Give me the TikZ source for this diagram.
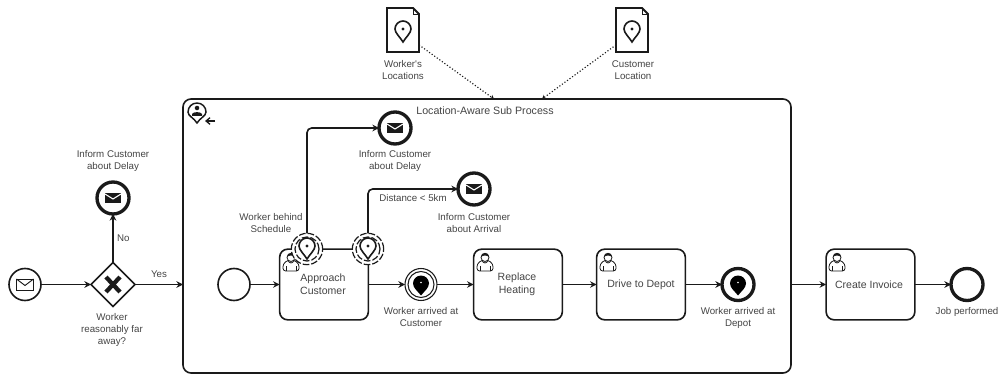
\documentclass[tikz,border=0pt]{standalone}
\usepackage{fontspec}
\setmainfont{Liberation Sans}
\newfontfamily\plainfont{Liberation Sans}
\usetikzlibrary{arrows.meta,shapes.geometric,calc}
\definecolor{ink}{HTML}{1A1A1A}
\definecolor{lab}{HTML}{444444}
\tikzset{
  x=0.75pt,y=-0.75pt,
  every node/.style={inner sep=0pt,outer sep=0pt,align=center},
  flow/.style={draw=ink,line width=1.2pt,-{Stealth[length=5pt,width=5pt]},rounded corners=3.5pt},
  assoc/.style={draw=ink,line width=0.85pt,dash pattern=on 0.85pt off 1.5pt,-{Stealth[length=3pt,width=3.5pt]}},
  lbl/.style={text=lab,font=\fontsize{7.3pt}{9pt}\selectfont},
  tasklbl/.style={text=lab,font=\fontsize{7.9pt}{9.8pt}\selectfont},
  evstart/.style={circle,draw=ink,line width=1.2pt,fill=white,minimum size=24pt},
  evend/.style={circle,draw=ink,line width=2.5pt,fill=white,minimum size=24pt},
  evdouble/.style={circle,draw=ink,line width=0.8pt,fill=white,minimum size=24pt},
  evbound/.style={circle,draw=ink,line width=0.9pt,dash pattern=on 5pt off 1.5pt,fill=white,minimum size=23.5pt},
  taskbox/.style={rectangle,draw=ink,line width=1.2pt,fill=white,rounded corners=6pt,minimum width=66.5pt,minimum height=53pt},
  gate/.style={diamond,draw=ink,line width=1.2pt,fill=white,minimum size=33pt,aspect=1},
  docbox/.style={rectangle,minimum width=24pt,minimum height=33pt},
  pics/pinline/.style={code={
    \draw[ink,line width=1.2pt,fill=white] (0,13) .. controls (-3,8) and (-8,4) .. (-8,0)
      .. controls (-8,-4.4) and (-4.4,-8) .. (0,-8)
      .. controls (4.4,-8) and (8,-4.4) .. (8,0)
      .. controls (8,4) and (3,8) .. (0,13) -- cycle;
    \fill[ink] (0,0) circle (1.3pt);}},
  pics/pinsolid/.style={code={
    \fill[black] (0,11) .. controls (-3,7) and (-8,3.5) .. (-8,-1)
      .. controls (-8,-5.4) and (-4.4,-9) .. (0,-9)
      .. controls (4.4,-9) and (8,-5.4) .. (8,-1)
      .. controls (8,3.5) and (3,7) .. (0,11) -- cycle;
    \fill[white] (0,-2) circle (0.6pt);}},
  pics/mailsolid/.style={code={
    \fill[ink] (-8,-5) rectangle (8,5);
    \draw[white,line width=0.8pt] (-8,-4) -- (0,1) -- (8,-4);}},
  pics/mailline/.style={code={
    \draw[ink,line width=0.7pt,fill=white] (-8.5,-5.5) rectangle (8.5,5.5);
    \draw[ink,line width=0.7pt] (-8.5,-5.5) -- (0,1) -- (8.5,-5.5);}},
  pics/worker/.style={code={
    \draw[ink,line width=0.6pt,fill=white,rounded corners=2pt] (-8,9) -- (-8,2) -- (-3,-2) -- (3,-2) -- (8,2) -- (8,9) -- cycle;
    \draw[ink,line width=0.6pt,fill=white] (0,-4.5) circle (3pt);
    \fill[ink] (-4,-5) .. controls (-4,-10.5) and (4,-10.5) .. (4,-5) .. controls (2,-7) and (-2,-7) .. (-4,-5) -- cycle;
    \draw[ink,line width=0.6pt] (-5,9) -- (-5,4) (5,9) -- (5,4);
    \draw[ink,line width=0.6pt] (-3,-2) .. controls (-2,2) and (2,2) .. (3,-2);}},
  pics/docsheet/.style={code={
    \draw[ink,line width=1.4pt,fill=white] (-16,-22) -- (10,-22) -- (16,-16) -- (16,22) -- (-16,22) -- cycle;
    \draw[ink,line width=0.7pt] (10,-22) -- (10,-16) -- (16,-16);}}
}
\begin{document}
\begin{tikzpicture}
\useasboundingbox (0,0) rectangle (999,374);

% sub process
\node[rectangle,draw=ink,line width=1.2pt,rounded corners=6pt,minimum width=456pt,minimum height=205.5pt] (sub) at (487,236) {};
\node[tasklbl,font=\fontsize{8pt}{9pt}\selectfont] (subl) at (485,111) {Location-Aware Sub Process};

% sub process marker
\draw[ink,line width=1.1pt] (197,123) .. controls (194,118) and (188,116) .. (188,112)
  .. controls (188,107) and (192,103) .. (197,103)
  .. controls (202,103) and (206,107) .. (206,112)
  .. controls (206,116) and (200,118) .. (197,123) -- cycle;
\fill[ink] (197,108) circle (1.7pt);
\fill[ink] (192,116) -- (192,114) .. controls (193,111.5) and (201,111.5) .. (202,114) -- (202,116) -- cycle;
\coordinate (mk1) at (215,121);
\coordinate (mk2) at (205,121);
\draw[ink,line width=1pt,-{Straight Barb[length=3pt,width=5pt]}] (mk1) -- (mk2);

% data objects
\node[docbox] (d1) at (403,30) {};
\node[docbox] (d2) at (632,30) {};
\pic at (d1) {docsheet};
\pic at (d2) {docsheet};
\pic at (403,29) {pinline};
\pic at (632,29) {pinline};
\node[lbl] (d1l) at (403,70.5) {Worker{\plainfont '}s\\Locations};
\node[lbl] (d2l) at (633,70.5) {Customer\\Location};
\coordinate (s1) at (494,99);
\coordinate (s2) at (542,99);
\draw[assoc] (d1.-43) -- (s1);
\draw[assoc] (d2.223) -- (s2);

% left part
\node[evstart] (st) at (25,284.5) {};
\pic at (st) {mailline};
\node[gate] (gw) at (113,284.5) {};
\draw[ink,line width=3.2pt] (106,277) -- (120,292) (120,277) -- (106,292);
\node[evend] (ld) at (113,198) {};
\pic at (ld) {mailsolid};
\node[lbl] (ldl) at (113,161) {Inform Customer\\about Delay};
\node[lbl] (gwl) at (112,330) {Worker\\reasonably far\\away?};
\draw[flow] (st) -- (gw);
\draw[flow] (gw) -- node[lbl,pos=0.5,right=3pt] (no) {No} (ld);
\draw[flow] (gw) -- node[lbl,pos=0.5,above=5pt] (yes) {Yes} (gw -| sub.west);

% tasks
\node[evstart] (is) at (234,284.5) {};
\node[taskbox] (t1) at (324,284.5) {};
\node[tasklbl] (t1l) at (323,284) {Approach\\Customer};
\node[taskbox] (t2) at (518,284.5) {};
\node[tasklbl] (t2l) at (517,284) {Replace\\Heating};
\node[taskbox] (t3) at (641,284.5) {};
\node[tasklbl] (t3l) at (641,285) {Drive to Depot};
\node[taskbox] (t4) at (870.5,284.5) {};
\node[tasklbl] (t4l) at (869,285) {Create Invoice};
\pic at (291,262) {worker};
\pic at (485,262) {worker};
\pic at (608,262) {worker};
\pic at (837,262) {worker};

% boundary events
\node[evbound] (b1) at (307,249) {};
\node[evbound,minimum size=18pt,fill=none] (b1i) at (307,249) {};
\pic at (307,246) {pinline};
\node[evbound] (b2) at (368,249) {};
\node[evbound,minimum size=18pt,fill=none] (b2i) at (368,249) {};
\pic at (368,246) {pinline};

% throw events
\node[evend] (m1) at (395,128) {};
\pic at (m1) {mailsolid};
\node[lbl] (m1l) at (395,161) {Inform Customer\\about Delay};
\node[evend] (m2) at (474,189) {};
\pic at (m2) {mailsolid};
\node[lbl] (m2l) at (474,223) {Inform Customer\\about Arrival};
\node[lbl] (dist) at (413,198) {Distance < 5km};
\node[lbl] (b1l) at (271,223) {Worker behind\\Schedule};

\node[evdouble] (e1) at (421,284.5) {};
\node[evdouble,minimum size=19.5pt] (e1i) at (421,284.5) {};
\pic at (421,284.5) {pinsolid};
\node[lbl] (e1l) at (421,317.5) {Worker arrived at\\Customer};
\node[evend] (e2) at (738,284.5) {};
\pic at (738,284.5) {pinsolid};
\node[lbl] (e2l) at (738,317.5) {Worker arrived at\\Depot};
\node[evend] (en) at (967,284.5) {};
\node[lbl] (enl) at (967,312) {Job performed};

% flows
\draw[flow] (is) -- (t1);
\draw[flow] (t1) -- (e1);
\draw[flow] (e1) -- (t2);
\draw[flow] (t2) -- (t3);
\draw[flow] (t3) -- (e2);
\draw[flow] (sub.east |- t4.west) -- (t4);
\draw[flow] (t4) -- (en);
\draw[flow] (b1.north) |- (m1.west);
\draw[flow] (b2.north) |- (m2.west);
\end{tikzpicture}
\end{document}
